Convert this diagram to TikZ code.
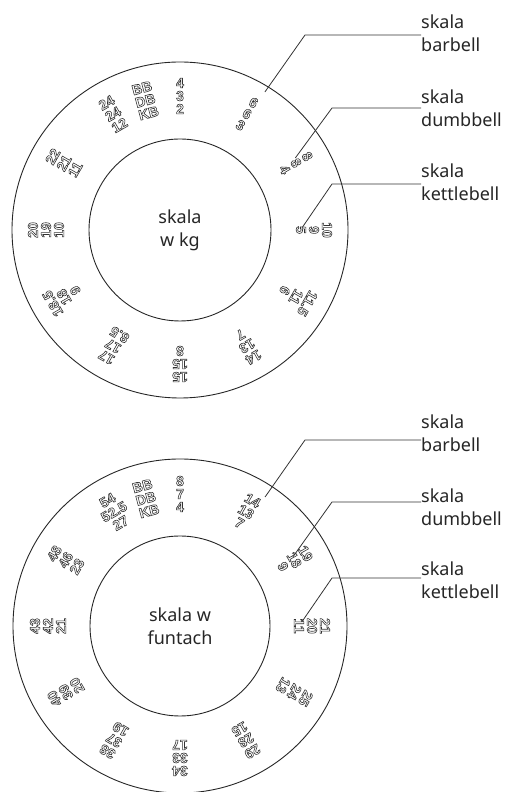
\documentclass[tikz,border=0pt]{standalone}
\usepackage{fontspec}
\setmainfont{Noto Sans}
\newfontfamily\numfont{Liberation Sans}
\usetikzlibrary{calc}
\newcommand{\outlinetext}[1]{\special{pdf:literal direct 1 Tr 0.6 w 0.2 0.2 0.2 RG}#1\special{pdf:literal direct 0 Tr}}
\begin{document}
\begin{tikzpicture}[x=1pt,y=1pt,
  num/.style={font=\numfont\bfseries\fontsize{14}{14}\selectfont, inner sep=0pt, text=black!80},
  lbl/.style={font=\fontsize{18}{23}\selectfont, align=left, inner sep=0pt, anchor=west, text=black!85},
  ring/.style={draw=black!85, line width=0.9pt, circle, inner sep=0pt},
  lead/.style={draw=black!80, line width=0.8pt}]
\useasboundingbox (0,0) rectangle (506,792);
\coordinate (tc) at (180,562);
\coordinate (bc) at (180,166);
% top dial
\node[ring, minimum size=336pt] (touter) at (tc) {};
\node[ring, minimum size=182pt, align=center, font=\fontsize{18}{23}\selectfont, text=black!85] (tinner) at (tc) {skala\\w kg};
\foreach \ang/\vb/\vd/\vk in {90/4/3/2, 60/6/6/3, 30/8/8/4, 0/10/9/5, -30/11.5/11/6, -60/14/13/7, -90/15/15/8, -120/17/17/8.5, -150/18.5/18/9, 180/20/19/10, 150/22/21/11, 120/24/24/12, 105/BB/DB/KB}{
  \node[num, rotate=\ang-90] (tb\ang) at ($(tc)+(\ang:147)$) {\outlinetext{\vb}};
  \node[num, rotate=\ang-90] (td\ang) at ($(tc)+(\ang:134)$) {\outlinetext{\vd}};
  \node[num, rotate=\ang-90] (tk\ang) at ($(tc)+(\ang:121)$) {\outlinetext{\vk}};
}
% bottom dial
\node[ring, minimum size=334pt] (bouter) at (bc) {};
\node[ring, minimum size=180pt, align=center, font=\fontsize{18}{23}\selectfont, text=black!85] (binner) at (bc) {skala w\\funtach};
\foreach \ang/\vb/\vd/\vk in {90/8/7/4, 60/14/13/7, 30/19/18/9, 0/21/20/11, -30/25/24/13, -60/29/28/15, -90/34/33/17, -120/38/37/19, -150/40/39/20, 180/43/42/21, 150/48/46/23, 120/54/52.5/27, 105/BB/DB/KB}{
  \node[num, rotate=\ang-90] (bb\ang) at ($(bc)+(\ang:145)$) {\outlinetext{\vb}};
  \node[num, rotate=\ang-90] (bd\ang) at ($(bc)+(\ang:132)$) {\outlinetext{\vd}};
  \node[num, rotate=\ang-90] (bk\ang) at ($(bc)+(\ang:119)$) {\outlinetext{\vk}};
}
% labels top
\node[lbl] (tlb) at (421,759) {skala\\barbell};
\node[lbl] (tld) at (421,683.5) {skala\\dumbbell};
\node[lbl] (tlk) at (421,610) {skala\\kettlebell};
\coordinate (teb) at ($(tc)+(58.4:162)$);
\coordinate (tkb) at (305,757);
\coordinate (ted) at ($(tc)+(32:136)$);
\coordinate (tkd) at (332,684);
\coordinate (tek) at ($(tc)+(1:122)$);
\coordinate (tkk) at (332,608);
\draw[lead] (teb) -- (tkb) -- (tkb -| tlb.west);
\draw[lead] (ted) -- (tkd) -- (tkd -| tld.west);
\draw[lead] (tek) -- (tkk) -- (tkk -| tlk.west);
% labels bottom
\node[lbl] (blb) at (421,359) {skala\\barbell};
\node[lbl] (bld) at (421,285) {skala\\dumbbell};
\node[lbl] (blk) at (421,212) {skala\\kettlebell};
\coordinate (beb) at ($(bc)+(56.6:154.5)$);
\coordinate (bkb) at (305,352);
\coordinate (bed) at ($(bc)+(31.4:132)$);
\coordinate (bkd) at (332,290);
\coordinate (bek) at ($(bc)+(2:122)$);
\coordinate (bkk) at (332,214);
\draw[lead] (beb) -- (bkb) -- (bkb -| blb.west);
\draw[lead] (bed) -- (bkd) -- (bkd -| bld.west);
\draw[lead] (bek) -- (bkk) -- (bkk -| blk.west);
\end{tikzpicture}
\end{document}
